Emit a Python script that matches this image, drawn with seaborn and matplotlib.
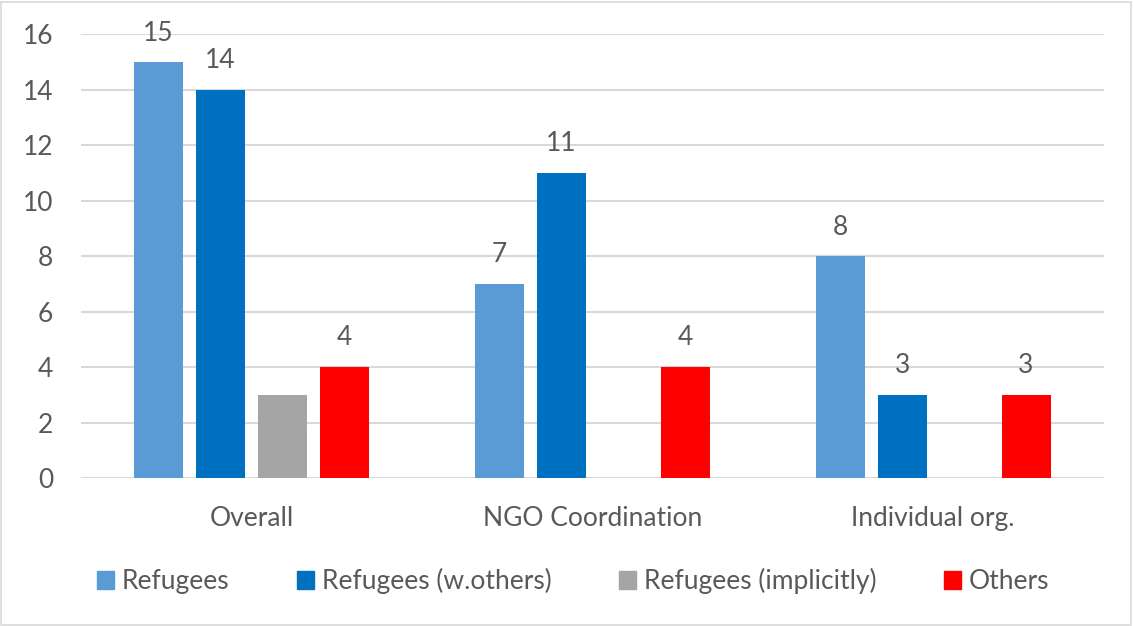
import numpy as np
import pandas as pd
import matplotlib
matplotlib.use("Agg")
import matplotlib.pyplot as plt
import matplotlib.patches as mpatches
import seaborn as sns

categories = ["Overall", "NGO Coordination", "Individual org."]
series_names = ["Refugees", "Refugees (w.others)", "Refugees (implicitly)", "Others"]
refugees = [15, 7, 8]
refugees_w_others = [14, 11, 3]
refugees_implicitly = [3, np.nan, np.nan]
others = [4, 4, 3]
colors = ["#5B9BD5", "#0070C0", "#A5A5A5", "#FF0000"]
labelled = [True, True, False, True]

series_values = [refugees, refugees_w_others, refugees_implicitly, others]
rows = []
for name, vals in zip(series_names, series_values):
    for cat, v in zip(categories, vals):
        rows.append({"category": cat, "series": name, "value": v})
df = pd.DataFrame(rows)

sns.set_theme(style="white")
text_color = "#595959"
plt.rcParams["font.family"] = ["Lato", "DejaVu Sans"]
fs = 19

fig = plt.figure(figsize=(11.33, 6.26), dpi=100)
ax = fig.add_axes([0.0715, 0.2364, 0.9025, 0.7085])

sns.barplot(data=df, x="category", y="value", hue="series",
            order=categories, hue_order=series_names,
            palette=colors, width=0.727, gap=0.21, linewidth=0,
            saturation=1, errorbar=None, legend=False, ax=ax)

ax.set_ylim(0, 16)
ax.set_yticks(range(0, 17, 2))
ax.yaxis.grid(True, color="#D9D9D9", linewidth=1.5)
ax.set_axisbelow(True)
for s in ax.spines.values():
    s.set_visible(False)
ax.set_xlabel("")
ax.set_ylabel("")
ax.tick_params(axis="y", length=0, pad=20, labelsize=fs, labelcolor=text_color)
ax.tick_params(axis="x", length=0, pad=20, labelsize=fs, labelcolor=text_color)

# value labels above each bar, except the implicit series
for cont, show in zip(ax.containers, labelled):
    if not show:
        continue
    labs = [f"{v:g}" if np.isfinite(v) else "" for v in cont.datavalues]
    ax.bar_label(cont, labels=labs, padding=12, fontsize=fs, color=text_color)

handles = [mpatches.Patch(color=c, label=n) for c, n in zip(colors, series_names)]
fig.legend(handles=handles, loc="center", bbox_to_anchor=(0.506, 0.072),
           ncol=4, frameon=False, fontsize=fs, labelcolor=text_color,
           handlelength=0.65, handleheight=0.65, handletextpad=0.3,
           columnspacing=2.55)

fig.patches.append(mpatches.Rectangle((0.001, 0.002), 0.997, 0.995,
                                      transform=fig.transFigure, fill=False,
                                      edgecolor="#D9D9D9", linewidth=1.2))

fig.savefig("out.png", dpi=100, facecolor="white")
